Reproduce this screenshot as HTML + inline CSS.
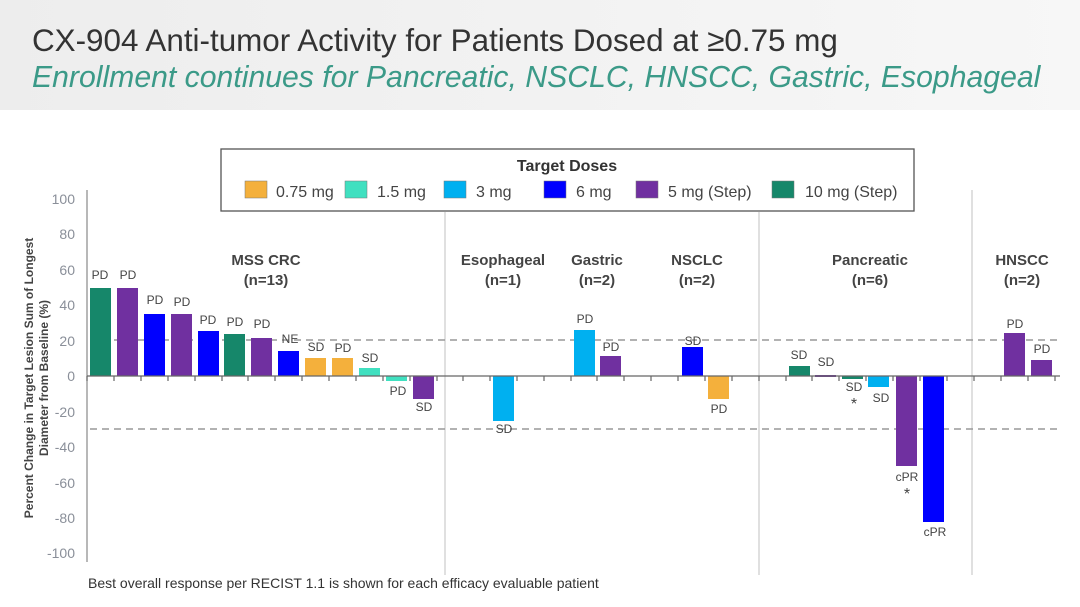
<!DOCTYPE html>
<html><head><style>
body{margin:0;width:1080px;height:602px;overflow:hidden;background:#fff;font-family:"Liberation Sans",sans-serif}
</style></head><body>
<svg width="1080" height="602" xmlns="http://www.w3.org/2000/svg" font-family="Liberation Sans, sans-serif">
<defs><linearGradient id="g" x1="0" y1="0" x2="1" y2="0"><stop offset="0" stop-color="#ededed"/><stop offset="1" stop-color="#f7f7f7"/></linearGradient></defs>
<rect x="0" y="0" width="1080" height="110" fill="url(#g)"/>
<text x="32" y="51" font-size="31.4" fill="#333">CX-904 Anti-tumor Activity for Patients Dosed at ≥0.75 mg</text>
<text x="32" y="87" font-size="30.2" fill="#3b9a88" font-style="italic">Enrollment continues for Pancreatic, NSCLC, HNSCC, Gastric, Esophageal</text>
<!-- legend -->
<rect x="221" y="149" width="693" height="62" fill="#fff" stroke="#555" stroke-width="1.3"/>
<text x="567" y="171" font-size="16" font-weight="bold" fill="#333" text-anchor="middle">Target Doses</text>
<g font-size="16" fill="#444">
<rect x="245" y="181" width="22" height="17" fill="#f4b03c" stroke="#777" stroke-width=".5"/><text x="276" y="197">0.75 mg</text>
<rect x="345" y="181" width="22" height="17" fill="#40e0c0" stroke="#777" stroke-width=".5"/><text x="377" y="197">1.5 mg</text>
<rect x="444" y="181" width="22" height="17" fill="#00b0f0" stroke="#777" stroke-width=".5"/><text x="476" y="197">3 mg</text>
<rect x="544" y="181" width="22" height="17" fill="#0000ff" stroke="#777" stroke-width=".5"/><text x="576" y="197">6 mg</text>
<rect x="636" y="181" width="22" height="17" fill="#7030a0" stroke="#777" stroke-width=".5"/><text x="668" y="197">5 mg (Step)</text>
<rect x="772" y="181" width="22" height="17" fill="#16876a" stroke="#777" stroke-width=".5"/><text x="805" y="197">10 mg (Step)</text>
</g>
<!-- axes -->
<line x1="87" y1="190" x2="87" y2="562" stroke="#888" stroke-width="1.2"/>
<g font-size="14" fill="#8a8f99" text-anchor="end">
<text x="75" y="204">100</text><text x="75" y="239">80</text><text x="75" y="275">60</text><text x="75" y="310">40</text><text x="75" y="346">20</text><text x="75" y="381">0</text><text x="75" y="417">-20</text><text x="75" y="452">-40</text><text x="75" y="488">-60</text><text x="75" y="523">-80</text><text x="75" y="558">-100</text>
</g>
<text transform="translate(33,378) rotate(-90)" font-size="12" font-weight="bold" fill="#444" text-anchor="middle">Percent Change in Target Lesion Sum of Longest</text>
<text transform="translate(48,378) rotate(-90)" font-size="12" font-weight="bold" fill="#444" text-anchor="middle">Diameter from Baseline (%)</text>
<g stroke="#ccc" stroke-width="1.2"><line x1="445" y1="212" x2="445" y2="575"/><line x1="759" y1="212" x2="759" y2="575"/><line x1="972" y1="190" x2="972" y2="575"/></g>
<g stroke="#999" stroke-width="1.5" stroke-dasharray="7,5"><line x1="90" y1="340" x2="1060" y2="340"/><line x1="90" y1="429" x2="1060" y2="429"/></g>
<!-- bars -->
<g>
<rect x="90" y="288" width="21" height="88" fill="#16876a"/>
<rect x="117" y="288" width="21" height="88" fill="#7030a0"/>
<rect x="144" y="314" width="21" height="62" fill="#0000ff"/>
<rect x="171" y="314" width="21" height="62" fill="#7030a0"/>
<rect x="198" y="331" width="21" height="45" fill="#0000ff"/>
<rect x="224" y="334" width="21" height="42" fill="#16876a"/>
<rect x="251" y="338" width="21" height="38" fill="#7030a0"/>
<rect x="278" y="351" width="21" height="25" fill="#0000ff"/>
<rect x="305" y="358" width="21" height="18" fill="#f4b03c"/>
<rect x="332" y="358" width="21" height="18" fill="#f4b03c"/>
<rect x="359" y="368" width="21" height="8" fill="#40e0c0"/>
<rect x="386" y="376" width="21" height="5" fill="#40e0c0"/>
<rect x="413" y="376" width="21" height="23" fill="#7030a0"/>
<rect x="493" y="376" width="21" height="45" fill="#00b0f0"/>
<rect x="574" y="330" width="21" height="46" fill="#00b0f0"/>
<rect x="600" y="356" width="21" height="20" fill="#7030a0"/>
<rect x="682" y="347" width="21" height="29" fill="#0000ff"/>
<rect x="708" y="376" width="21" height="23" fill="#f4b03c"/>
<rect x="789" y="366" width="21" height="10" fill="#16876a"/>
<rect x="815" y="375" width="21" height="2" fill="#7030a0"/>
<rect x="842" y="376" width="21" height="3" fill="#16876a"/>
<rect x="868" y="376" width="21" height="11" fill="#00b0f0"/>
<rect x="896" y="376" width="21" height="90" fill="#7030a0"/>
<rect x="923" y="376" width="21" height="146" fill="#0000ff"/>
<rect x="1004" y="333" width="21" height="43" fill="#7030a0"/>
<rect x="1031" y="360" width="21" height="16" fill="#7030a0"/>
</g>
<line x1="87" y1="376" x2="1060" y2="376" stroke="#666" stroke-width="1.3"/>
<path d="M87 376v5M114 376v5M141 376v5M168 376v5M195 376v5M222 376v5M248 376v5M275 376v5M302 376v5M329 376v5M356 376v5M383 376v5M410 376v5M437 376v5M463 376v5M490 376v5M517 376v5M544 376v5M571 376v5M597 376v5M624 376v5M651 376v5M678 376v5M705 376v5M732 376v5M759 376v5M786 376v5M812 376v5M839 376v5M866 376v5M893 376v5M920 376v5M947 376v5M974 376v5M1001 376v5M1028 376v5M1055 376v5" stroke="#666" stroke-width="1.2"/>
<!-- labels -->
<g font-size="12" fill="#444" text-anchor="middle">
<text x="100" y="279">PD</text><text x="128" y="279">PD</text><text x="155" y="304">PD</text><text x="182" y="306">PD</text><text x="208" y="324">PD</text><text x="235" y="326">PD</text><text x="262" y="328">PD</text><text x="290" y="343">NE</text><text x="316" y="351">SD</text><text x="343" y="352">PD</text><text x="370" y="362">SD</text><text x="398" y="395">PD</text><text x="424" y="411">SD</text>
<text x="504" y="433">SD</text>
<text x="585" y="323">PD</text><text x="611" y="351">PD</text>
<text x="693" y="345">SD</text><text x="719" y="413">PD</text>
<text x="799" y="359">SD</text><text x="826" y="366">SD</text><text x="854" y="391">SD</text><text x="854" y="409" font-size="16">*</text><text x="881" y="402">SD</text><text x="907" y="481">cPR</text><text x="907" y="499" font-size="16">*</text><text x="935" y="536">cPR</text>
<text x="1015" y="328">PD</text><text x="1042" y="353">PD</text>
</g>
<g font-size="15" font-weight="bold" fill="#444" text-anchor="middle">
<text x="266" y="265">MSS CRC</text><text x="266" y="285">(n=13)</text>
<text x="503" y="265">Esophageal</text><text x="503" y="285">(n=1)</text>
<text x="597" y="265">Gastric</text><text x="597" y="285">(n=2)</text>
<text x="697" y="265">NSCLC</text><text x="697" y="285">(n=2)</text>
<text x="870" y="265">Pancreatic</text><text x="870" y="285">(n=6)</text>
<text x="1022" y="265">HNSCC</text><text x="1022" y="285">(n=2)</text>
</g>
<text x="88" y="588" font-size="14" fill="#333">Best overall response per RECIST 1.1 is shown for each efficacy evaluable patient</text>
</svg>
</body></html>
